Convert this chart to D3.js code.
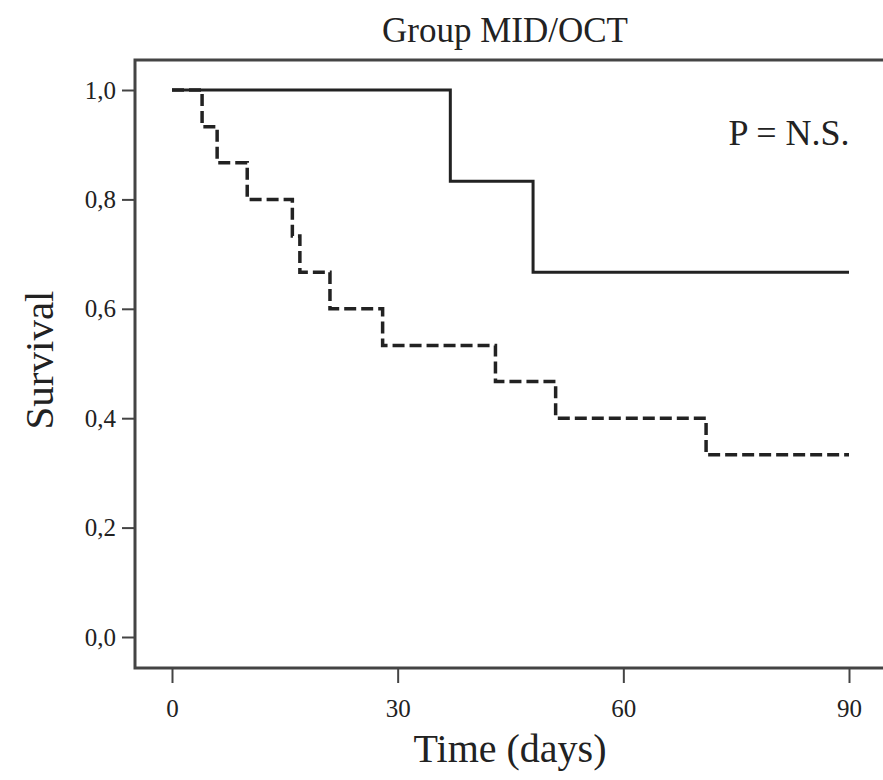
<!DOCTYPE html>
<html>
<head>
<meta charset="utf-8">
<script src="https://cdn.jsdelivr.net/npm/d3@7"></script>
<style>
  body { margin: 0; background: #fff; overflow: hidden; }
  text { font-family: "Liberation Serif", "DejaVu Serif", serif; fill: #222; }
</style>
</head>
<body>
<div id="chart"></div>
<script>
// chart values
const timeTicks = [0, 30, 60, 90];
const survivalTicks = [0, 0.2, 0.4, 0.6, 0.8, 1.0];

// solid curve (step after)
const solidTimes = [0, 37, 48, 90];
const solidSurvival = [1.0, 0.833, 0.667, 0.667];

// dashed curve (step after)
const dashedTimes = [0, 4, 6, 10, 16, 17, 21, 28, 43, 51, 71, 90];
const dashedSurvival = [1.0, 0.933, 0.867, 0.8, 0.733, 0.667, 0.6, 0.533, 0.467, 0.4, 0.333, 0.333];

const titleText = "Group MID/OCT";
const xLabel = "Time (days)";
const yLabel = "Survival";
const pText = "P = N.S.";

const width = 883, height = 780;
const frame = { left: 135, top: 60, right: 910, bottom: 668 };

const svg = d3.select("#chart")
  .append("svg")
  .attr("width", width)
  .attr("height", height);

const x = d3.scaleLinear().domain([0, 90]).range([172, 849]);
const y = d3.scaleLinear().domain([0, 1]).range([637, 90]);

// frame
svg.append("rect")
  .attr("x", frame.left)
  .attr("y", frame.top)
  .attr("width", frame.right - frame.left)
  .attr("height", frame.bottom - frame.top)
  .attr("fill", "none")
  .attr("stroke", "#444")
  .attr("stroke-width", 3);

// y axis
const yAxis = svg.append("g")
  .attr("transform", `translate(${frame.left},0)`)
  .call(d3.axisLeft(y)
    .tickValues(survivalTicks)
    .tickSize(13)
    .tickPadding(6)
    .tickFormat(d => d3.format(".1f")(d).replace(".", ",")));
yAxis.select(".domain").remove();
yAxis.selectAll(".tick line").attr("stroke", "#444").attr("stroke-width", 2);
yAxis.selectAll(".tick text")
  .attr("font-size", 25)
  .attr("font-family", "Liberation Serif")
  .attr("fill", "#333");

// x axis
const xAxis = svg.append("g")
  .attr("transform", `translate(0,${frame.bottom})`)
  .call(d3.axisBottom(x)
    .tickValues(timeTicks)
    .tickSize(15)
    .tickPadding(16)
    .tickFormat(d3.format("d")));
xAxis.select(".domain").remove();
xAxis.selectAll(".tick line").attr("stroke", "#444").attr("stroke-width", 2);
xAxis.selectAll(".tick text")
  .attr("font-size", 25)
  .attr("font-family", "Liberation Serif")
  .attr("fill", "#333");

// curves
const stepLine = d3.line()
  .x(d => x(d[0]))
  .y(d => y(d[1]))
  .curve(d3.curveStepAfter);

svg.append("path")
  .datum(d3.zip(dashedTimes, dashedSurvival))
  .attr("d", stepLine)
  .attr("fill", "none")
  .attr("stroke", "#222")
  .attr("stroke-width", 3.5)
  .attr("stroke-dasharray", "12,5");

svg.append("path")
  .datum(d3.zip(solidTimes, solidSurvival))
  .attr("d", stepLine)
  .attr("fill", "none")
  .attr("stroke", "#222")
  .attr("stroke-width", 3);

// texts
svg.append("text")
  .attr("x", 505)
  .attr("y", 42)
  .attr("text-anchor", "middle")
  .attr("font-size", 35)
  .text(titleText);

svg.append("text")
  .attr("x", 789)
  .attr("y", 145)
  .attr("text-anchor", "middle")
  .attr("font-size", 36)
  .text(pText);

svg.append("text")
  .attr("transform", "translate(53,360) rotate(-90)")
  .attr("text-anchor", "middle")
  .attr("font-size", 41)
  .text(yLabel);

svg.append("text")
  .attr("x", 510)
  .attr("y", 762)
  .attr("text-anchor", "middle")
  .attr("font-size", 40)
  .text(xLabel);
</script>
</body>
</html>
